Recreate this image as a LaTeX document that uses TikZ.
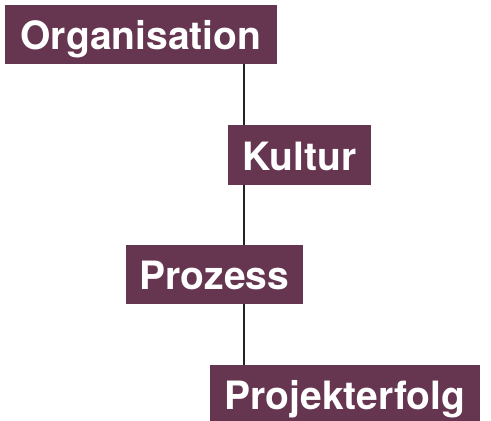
\documentclass[tikz,border=0pt]{standalone}
\usepackage{fontspec}
\setmainfont{TeX Gyre Heros}
\usetikzlibrary{backgrounds}
\definecolor{boxpurple}{HTML}{663651}
\definecolor{linegray}{HTML}{222222}
\tikzset{
  label box/.style={fill=boxpurple, text=white, inner sep=0pt,
    font=\fontsize{39}{41}\selectfont\bfseries,
    text height=30.5pt, text depth=0pt, minimum height=59pt},
  spine/.style={draw=linegray, line width=2.2pt}
}
\begin{document}
\begin{tikzpicture}[x=1pt,y=-1pt]
\useasboundingbox (0,0) rectangle (491,421);
\clip (0,0) rectangle (491,421);
\node[label box, minimum width=272pt] (org) at (141,34.5) {Organisation};
\node[label box, minimum width=143pt, minimum height=60pt] (kultur) at (299.5,155) {Kultur};
\node[label box, minimum width=177pt] (prozess) at (214.5,274.5) {Prozess};
\node[label box, minimum width=270pt] (proj) at (345,394.5) {Projekterfolg};
\coordinate (lx) at (244,0);
\begin{scope}[on background layer]
\draw[spine] (org.south -| lx) -- (proj.north -| lx);
\end{scope}
\end{tikzpicture}
\end{document}
